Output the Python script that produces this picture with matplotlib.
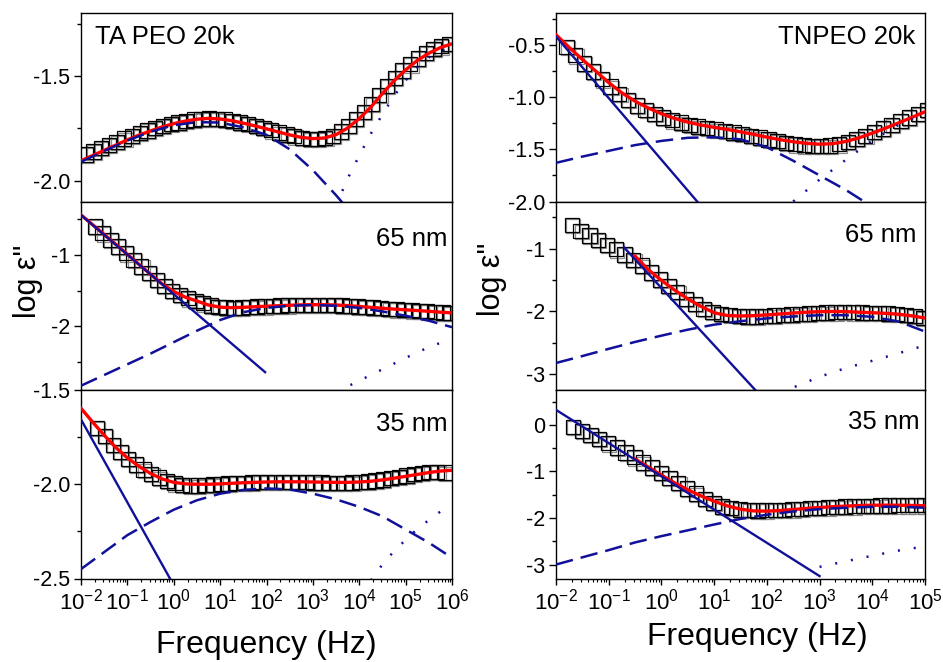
import numpy as np
import matplotlib
matplotlib.use("Agg")
import matplotlib.pyplot as plt
import matplotlib.patheffects as pe
from matplotlib.ticker import MultipleLocator, FormatStrFormatter, FixedLocator, FuncFormatter, LogLocator, NullFormatter

plt.rcParams['font.family'] = ['Liberation Sans', 'DejaVu Sans']
plt.rcParams['mathtext.fontset'] = 'custom'
plt.rcParams['mathtext.rm'] = 'Liberation Sans'
plt.rcParams['mathtext.it'] = 'Liberation Sans:italic'
plt.rcParams['mathtext.bf'] = 'Liberation Sans:bold'
plt.rcParams['axes.unicode_minus'] = False

# measured points: log10(f) starts at sq0, 6 points per decade
PTS_PER_DEC = 6

# ---- TA PEO 20k (left top)
lt_sq0 = -1.9
lt_sq = [-1.875, -1.86, -1.845, -1.829, -1.814, -1.799, -1.785, -1.772, -1.76, -1.749,
         -1.739, -1.73, -1.722, -1.714, -1.708, -1.704, -1.702, -1.704, -1.708, -1.714,
         -1.722, -1.73, -1.739, -1.748, -1.759, -1.77, -1.779, -1.788, -1.795, -1.80,
         -1.80, -1.796, -1.785, -1.765, -1.738, -1.706, -1.672, -1.634, -1.59, -1.548,
         -1.508, -1.473, -1.443, -1.415, -1.39, -1.371, -1.357, -1.346]
lt_fit0 = -2
lt_fit = [-1.905, -1.88, -1.855, -1.83, -1.805, -1.782, -1.762, -1.743, -1.727, -1.715,
          -1.706, -1.702, -1.705, -1.713, -1.725, -1.738, -1.752, -1.767, -1.781, -1.793,
          -1.799, -1.796, -1.78, -1.748, -1.703, -1.648, -1.583, -1.522, -1.47, -1.425,
          -1.39, -1.363, -1.345]
lt_dash_f = [-2, -1.5, -1, -0.5, 0, 0.5, 1, 1.5, 2, 2.5, 3, 3.5, 4]
lt_dash = [-1.91, -1.858, -1.808, -1.766, -1.735, -1.72, -1.722, -1.745, -1.781, -1.85, -1.95, -2.07, -2.2]
lt_dot_f = [3.5, 3.75, 4, 4.25, 4.5, 4.75, 5, 5.25, 5.5, 5.75, 6]
lt_dot = [-2.12, -1.99, -1.88, -1.775, -1.683, -1.595, -1.52, -1.458, -1.41, -1.38, -1.36]

# ---- 65 nm (left middle)
lm_sq0 = -1.7
lm_sq = [-0.60, -0.695, -0.79, -0.88, -0.975, -1.065, -1.16, -1.25, -1.345, -1.43,
         -1.50, -1.56, -1.605, -1.64, -1.675, -1.705, -1.725, -1.735, -1.737, -1.733,
         -1.727, -1.722, -1.717, -1.712, -1.708, -1.703, -1.70, -1.697, -1.695, -1.695,
         -1.696, -1.70, -1.705, -1.711, -1.719, -1.727, -1.735, -1.743, -1.751, -1.759,
         -1.766, -1.773, -1.78, -1.787, -1.795, -1.803, -1.81]
lm_fit0 = -2
lm_fit = [-0.437, -0.575, -0.713, -0.85, -0.99, -1.13, -1.27, -1.405, -1.51, -1.59,
          -1.645, -1.70, -1.73, -1.737, -1.732, -1.724, -1.717, -1.71, -1.703, -1.698,
          -1.695, -1.696, -1.70, -1.708, -1.72, -1.733, -1.745, -1.757, -1.767, -1.777,
          -1.788, -1.80, -1.81]
lm_solid_f = [-2.0, 1.97]
lm_solid = [-0.44, -2.64]
lm_dash_f = [-2, -1.5, -1, -0.5, 0, 0.5, 1, 1.5, 2, 2.5, 3, 3.5, 4, 4.5, 5, 5.5, 6]
lm_dash = [-2.83, -2.68, -2.53, -2.38, -2.22, -2.06, -1.91, -1.80, -1.74, -1.71, -1.70,
           -1.71, -1.74, -1.79, -1.85, -1.92, -2.01]
lm_dot_f = [3.5, 4, 4.5, 5, 5.5, 6]
lm_dot = [-2.92, -2.76, -2.60, -2.44, -2.29, -2.17]

# ---- 35 nm (left bottom)
lb_sq0 = -1.65
lb_sq = [-1.70, -1.745, -1.79, -1.83, -1.865, -1.895, -1.922, -1.945, -1.965, -1.982,
         -1.995, -2.003, -2.007, -2.007, -2.005, -2.002, -1.999, -1.996, -1.994, -1.992,
         -1.99, -1.989, -1.988, -1.987, -1.987, -1.987, -1.988, -1.989, -1.99, -1.991,
         -1.992, -1.992, -1.992, -1.991, -1.989, -1.985, -1.98, -1.974, -1.967, -1.96,
         -1.953, -1.946, -1.94, -1.936, -1.935, -1.938]
lb_fit0 = -2
lb_fit = [-1.597, -1.67, -1.74, -1.805, -1.86, -1.905, -1.943, -1.972, -1.99, -1.998,
          -2.0, -2.0, -1.998, -1.995, -1.992, -1.99, -1.988, -1.987, -1.987, -1.987,
          -1.988, -1.989, -1.99, -1.99, -1.988, -1.984, -1.977, -1.968, -1.958, -1.948,
          -1.938, -1.93, -1.926]
lb_solid_f = [-2.0, 0.0]
lb_solid = [-1.656, -2.536]
lb_dash_f = [-2, -1.5, -1, -0.5, 0, 0.5, 1, 1.5, 2, 2.5, 3, 3.5, 4, 4.5, 5, 5.5, 6]
lb_dash = [-2.45, -2.36, -2.27, -2.2, -2.135, -2.085, -2.05, -2.03, -2.022, -2.028, -2.05,
           -2.08, -2.12, -2.17, -2.24, -2.31, -2.39]
lb_dot_f = [4.25, 4.5, 4.75, 5, 5.25, 5.5, 5.75, 6]
lb_dot = [-2.51, -2.425, -2.355, -2.295, -2.238, -2.19, -2.145, -2.11]

# ---- TNPEO 20k (right top)
rt_sq0 = -1.8
rt_sq = [-0.52, -0.60, -0.678, -0.755, -0.83, -0.90, -0.968, -1.03, -1.08, -1.125,
         -1.163, -1.195, -1.222, -1.245, -1.265, -1.283, -1.298, -1.312, -1.326, -1.34,
         -1.355, -1.37, -1.388, -1.405, -1.422, -1.438, -1.452, -1.462, -1.468, -1.47,
         -1.465, -1.452, -1.43, -1.402, -1.37, -1.335, -1.30, -1.265, -1.23, -1.195,
         -1.16, -1.125]
rt_fit0 = -2
rt_fit = [-0.404, -0.525, -0.64, -0.75, -0.862, -0.96, -1.04, -1.105, -1.16, -1.205,
          -1.24, -1.268, -1.29, -1.31, -1.333, -1.357, -1.384, -1.408, -1.428, -1.443,
          -1.452, -1.446, -1.425, -1.39, -1.345, -1.298, -1.247, -1.195, -1.141]
rt_solid_f = [-2.0, 1.0]
rt_solid = [-0.42, -2.19]
rt_dash_f = [-2, -1.5, -1, -0.5, 0, 0.5, 1, 1.5, 2, 2.5, 3, 3.5, 4]
rt_dash = [-1.63, -1.57, -1.515, -1.46, -1.42, -1.39, -1.385, -1.405, -1.48, -1.61, -1.75, -1.89, -2.05]
rt_dot_f = [2.5, 3, 3.5, 4, 4.5, 5]
rt_dot = [-2.0, -1.79, -1.6, -1.415, -1.265, -1.16]

# ---- 65 nm (right middle)
rm_sq0 = -1.7
rm_sq = [-0.625, -0.72, -0.79, -0.865, -0.94, -1.01, -1.093, -1.18, -1.27, -1.378,
         -1.49, -1.595, -1.69, -1.80, -1.885, -1.957, -2.01, -2.04, -2.06, -2.072,
         -2.078, -2.078, -2.073, -2.066, -2.058, -2.05, -2.042, -2.033, -2.025, -2.018,
         -2.013, -2.012, -2.013, -2.016, -2.02, -2.025, -2.032, -2.042, -2.055, -2.075,
         -2.1]
rm_fit0 = -0.5
rm_fit = [-1.12, -1.335, -1.505, -1.66, -1.80, -1.92, -2.02, -2.065, -2.072, -2.067,
          -2.055, -2.04, -2.025, -2.012, -2.003, -2.0, -2.003, -2.012, -2.02, -2.03,
          -2.045, -2.07, -2.105]
rm_solid_f = [-0.71, 2.0]
rm_solid = [-0.98, -3.45]
rm_dash_f = [-2, -1.5, -1, -0.5, 0, 0.5, 1, 1.5, 2, 2.5, 3, 3.5, 4, 4.5, 5]
rm_dash = [-2.82, -2.71, -2.595, -2.485, -2.385, -2.29, -2.21, -2.155, -2.11, -2.08,
           -2.06, -2.06, -2.085, -2.16, -2.32]
rm_dot_f = [2.25, 2.5, 3, 3.5, 4, 4.5, 5]
rm_dot = [-3.3, -3.21, -3.04, -2.90, -2.785, -2.665, -2.54]

# ---- 35 nm (right bottom)
rb_sq0 = -1.68
rb_sq = [-0.05, -0.135, -0.21, -0.30, -0.395, -0.485, -0.59, -0.695, -0.81, -0.915,
         -1.035, -1.14, -1.25, -1.365, -1.475, -1.585, -1.68, -1.75, -1.79, -1.815,
         -1.83, -1.837, -1.835, -1.83, -1.822, -1.812, -1.80, -1.79, -1.78, -1.77,
         -1.762, -1.755, -1.748, -1.742, -1.737, -1.733, -1.73, -1.728, -1.727, -1.727,
         -1.728]
rb_fit0 = -0.5
rb_fit = [-0.735, -0.905, -1.08, -1.245, -1.395, -1.525, -1.64, -1.74, -1.81, -1.848,
          -1.853, -1.84, -1.818, -1.795, -1.775, -1.758, -1.744, -1.733, -1.726, -1.724,
          -1.726, -1.731, -1.738]
rb_solid_f = [-2.0, 3.0]
rb_solid = [0.323, -3.248]
rb_dash_f = [-2, -1.5, -1, -0.5, 0, 0.5, 1, 1.5, 2, 2.5, 3, 3.5, 4, 4.5, 5]
rb_dash = [-3.0, -2.845, -2.69, -2.525, -2.39, -2.265, -2.14, -2.02, -1.93, -1.86,
           -1.81, -1.78, -1.76, -1.76, -1.78]
rb_dot_f = [3, 3.5, 4, 4.5, 5]
rb_dot = [-3.05, -2.93, -2.81, -2.70, -2.61]

BLUE = '#10109a'
RED = '#ff0000'

fig = plt.figure(figsize=(9.43, 6.62), dpi=100)
W, H = 943.0, 662.0


def make_ax(x0, x1, ytop, ybot):
    return fig.add_axes([x0 / W, 1 - ybot / H, (x1 - x0) / W, (ybot - ytop) / H])


def logx(v):
    return 10.0 ** np.asarray(v, dtype=float)


def draw(ax, sq0, sq, fit0, fit, dash_f, dash, dot_f, dot, solid_f=None, solid=None):
    f_sq = logx(sq0 + np.arange(len(sq)) / PTS_PER_DEC)
    ax.plot(f_sq, sq, 's', ms=10.3, mfc='none', mec='black', mew=0.9, zorder=2,
            path_effects=[pe.SimpleLineShadow(offset=(0.8, -0.8), shadow_color='0.5', alpha=0.9),
                          pe.Normal()])
    f_fit = logx(fit0 + 0.25 * np.arange(len(fit)))
    ax.plot(f_fit, fit, '-', color=RED, lw=2.4, zorder=3)
    ax.plot(logx(dash_f), dash, color=BLUE, lw=1.8, ls=(0, (7, 3.2)), zorder=4)
    ax.plot(logx(dot_f), dot, color=BLUE, lw=1.8, ls=(0, (0.8, 5.6)), zorder=4)
    if solid is not None:
        ax.plot(logx(solid_f), solid, '-', color=BLUE, lw=1.7, zorder=4)


def style(ax, xmax, ylim, major, minor, fmt, bottom):
    ax.set_xscale('log')
    ax.set_xlim(1e-2, xmax)
    ax.set_ylim(*ylim)
    ax.yaxis.set_major_locator(MultipleLocator(major))
    ax.yaxis.set_minor_locator(MultipleLocator(minor))
    ax.yaxis.set_major_formatter(FormatStrFormatter(fmt))
    ax.tick_params(axis='y', which='major', direction='out', length=5, width=1,
                   labelsize=15.5, pad=3, right=False)
    ax.tick_params(axis='y', which='minor', direction='out', length=3, width=1, right=False)
    for s in ax.spines.values():
        s.set_linewidth(1.0)
    if bottom:
        decs = np.arange(-2, int(round(np.log10(xmax))) + 1)
        ax.xaxis.set_major_locator(FixedLocator(logx(decs)))
        ax.xaxis.set_major_formatter(FuncFormatter(
            lambda v, p: r'$\mathregular{10^{%d}}$' % int(round(np.log10(v)))))
        ax.xaxis.set_minor_locator(LogLocator(base=10, subs=np.arange(2, 10), numticks=50))
        ax.xaxis.set_minor_formatter(NullFormatter())
        ax.tick_params(axis='x', which='major', direction='out', length=4, width=1,
                       labelsize=16, pad=3, top=False)
        ax.tick_params(axis='x', which='minor', direction='out', length=2.5, width=0.8, top=False)
    else:
        ax.tick_params(axis='x', which='both', bottom=False, top=False, labelbottom=False)


LX0, LX1 = 81, 452
RX0, RX1 = 556, 925
rows = [(13.5, 201.5), (201.5, 390), (390, 578.5)]

ax = make_ax(LX0, LX1, *rows[0])
draw(ax, lt_sq0, lt_sq, lt_fit0, lt_fit, lt_dash_f, lt_dash, lt_dot_f, lt_dot)
style(ax, 1e6, (-2.1, -1.2), 0.5, 0.25, '%.1f', False)
ax.text(0.038, 0.94, 'TA PEO 20k', transform=ax.transAxes, fontsize=18.5, va='top', ha='left')

ax = make_ax(LX0, LX1, *rows[1])
draw(ax, lm_sq0, lm_sq, lm_fit0, lm_fit, lm_dash_f, lm_dash, lm_dot_f, lm_dot, lm_solid_f, lm_solid)
style(ax, 1e6, (-2.89, -0.25), 1, 0.5, '%d', False)
ax.text(0.987, 0.867, '65 nm', transform=ax.transAxes, fontsize=18.5, va='top', ha='right')

ax = make_ax(LX0, LX1, *rows[2])
draw(ax, lb_sq0, lb_sq, lb_fit0, lb_fit, lb_dash_f, lb_dash, lb_dot_f, lb_dot, lb_solid_f, lb_solid)
style(ax, 1e6, (-2.5, -1.5), 0.5, 0.25, '%.1f', True)
ax.text(0.987, 0.883, '35 nm', transform=ax.transAxes, fontsize=18.5, va='top', ha='right')

ax = make_ax(RX0, RX1, *rows[0])
draw(ax, rt_sq0, rt_sq, rt_fit0, rt_fit, rt_dash_f, rt_dash, rt_dot_f, rt_dot, rt_solid_f, rt_solid)
style(ax, 1e5, (-2.0, -0.2), 0.5, 0.25, '%.1f', False)
ax.text(0.973, 0.94, 'TNPEO 20k', transform=ax.transAxes, fontsize=18.5, va='top', ha='right')

ax = make_ax(RX0, RX1, *rows[1])
draw(ax, rm_sq0, rm_sq, rm_fit0, rm_fit, rm_dash_f, rm_dash, rm_dot_f, rm_dot, rm_solid_f, rm_solid)
style(ax, 1e5, (-3.25, -0.25), 1, 0.5, '%d', False)
ax.text(0.978, 0.888, '65 nm', transform=ax.transAxes, fontsize=18.5, va='top', ha='right')

ax = make_ax(RX0, RX1, *rows[2])
draw(ax, rb_sq0, rb_sq, rb_fit0, rb_fit, rb_dash_f, rb_dash, rb_dot_f, rb_dot, rb_solid_f, rb_solid)
style(ax, 1e5, (-3.3, 0.75), 1, 0.5, '%d', True)
ax.text(0.986, 0.894, '35 nm', transform=ax.transAxes, fontsize=18.5, va='top', ha='right')

fig.text(28 / W, 1 - 281 / H, 'log ε"', rotation=90, fontsize=22, ha='center', va='center')
fig.text(492 / W, 1 - 279 / H, 'log ε"', rotation=90, fontsize=22, ha='center', va='center')
fig.text(266 / W, 1 - 645 / H, 'Frequency (Hz)', fontsize=23, ha='center', va='center')
fig.text(757 / W, 1 - 637 / H, 'Frequency (Hz)', fontsize=23, ha='center', va='center')

fig.savefig('out.png', dpi=100)
